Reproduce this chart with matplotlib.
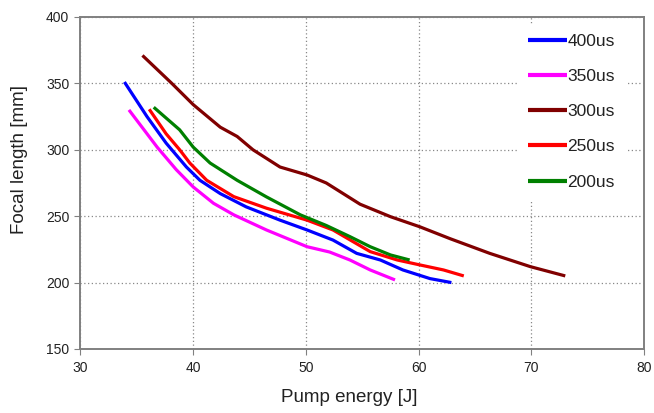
import matplotlib.pyplot as plt

plt.rcParams['font.family'] = ['Liberation Sans', 'DejaVu Sans']

# pump energy [J] / focal length [mm] for each pulse duration
e400 = [33.9, 35.9, 37.6, 39.4, 40.6, 42.4, 44.7, 47.7, 50.1, 52.4, 54.5, 56.6, 58.6, 61.0, 62.9]
f400 = [351, 325, 305, 287, 277, 267, 257, 247, 239.6, 232, 222, 217, 209.5, 203, 200]

e350 = [34.3, 36.8, 38.5, 40.0, 41.8, 43.6, 46.5, 50.1, 52.1, 53.9, 55.7, 57.9]
f350 = [330, 302, 285, 272, 259.7, 251, 239.6, 227, 223, 217, 209.5, 202]

e300 = [35.5, 38.1, 40.0, 42.4, 43.9, 45.3, 47.7, 50.1, 51.8, 54.8, 57.5, 60.1, 62.8, 66.3, 69.9, 73.0]
f300 = [371, 350, 334, 317, 310, 300, 287, 281, 275, 259, 249.6, 242, 233, 222, 212, 205]

e250 = [36.1, 37.6, 38.8, 39.7, 41.2, 43.6, 46.5, 50.1, 52.4, 55.7, 58.1, 60.1, 62.2, 64.0]
f250 = [330.5, 312, 300, 290, 277, 264.7, 256, 247, 239.6, 223.3, 217, 213.3, 209.5, 205]

e200 = [36.5, 38.8, 40.0, 41.5, 43.9, 46.5, 49.5, 51.8, 53.9, 55.7, 57.5, 59.2]
f200 = [332, 315, 302, 290, 277, 264.5, 251, 243, 234.6, 227, 220.8, 217]

labels = ['400us', '350us', '300us', '250us', '200us']
colors = ['#0000ff', '#ff00ff', '#800000', '#ff0000', '#008000']

fig = plt.figure(figsize=(6.54, 4.13), dpi=100)
ax = fig.add_axes([0.123, 0.155, 0.862, 0.804])

series = [(e400, f400), (e350, f350), (e300, f300), (e250, f250), (e200, f200)]
for (x, y), lab, c in zip(series, labels, colors):
    ax.plot(x, y, color=c, linewidth=2.3, label=lab, solid_capstyle='butt')

ax.set_xlim(30, 80)
ax.set_ylim(150, 400)
ax.set_xticks(range(30, 81, 10))
ax.set_yticks(range(150, 401, 50))
ax.grid(True, linestyle=(0, (1, 2)), color='#888888', linewidth=0.9)
ax.set_axisbelow(True)

for s in ax.spines.values():
    s.set_color('#808080')
    s.set_linewidth(1.4)
ax.tick_params(direction='out', length=4, color='#808080', labelsize=10,
               labelcolor='#222222', pad=4)
ax.tick_params(axis='x', pad=5)

ax.set_xlabel('Pump energy [J]', fontsize=13.5, color='#222222')
ax.set_ylabel('Focal length [mm]', fontsize=13.5, color='#222222')
ax.xaxis.set_label_coords(0.476, -0.122)
ax.yaxis.set_label_coords(-0.093, 0.57)

leg = ax.legend(loc='upper left', bbox_to_anchor=(0.776, 0.98), borderaxespad=0,
                fontsize=12.5, handlelength=2.2, handletextpad=0.05,
                labelspacing=1.15, frameon=True, fancybox=False,
                edgecolor='white', facecolor='white', framealpha=1,
                borderpad=0.6)
for t in leg.get_texts():
    t.set_color('#222222')
for h in leg.get_lines():
    h.set_linewidth(3)

fig.savefig('out.png', dpi=100)
